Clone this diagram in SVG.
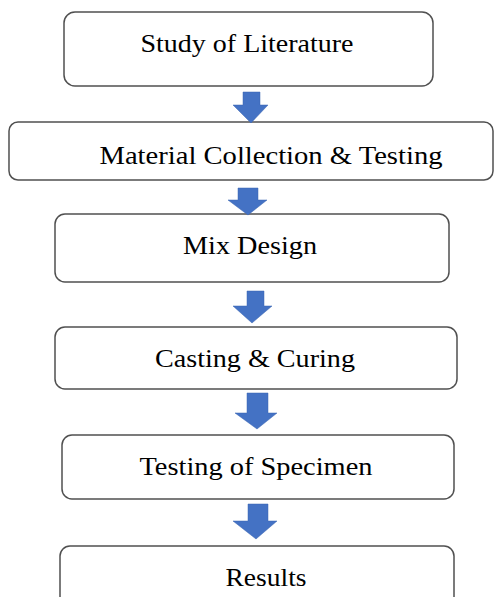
<svg xmlns="http://www.w3.org/2000/svg" width="494" height="597" viewBox="0 0 494 597">
<style>
.box{fill:#fff;stroke:#505050;stroke-width:1.5}
.lbl{font-size:25px;fill:#000;text-anchor:middle}
.arr{fill:#4472C4;stroke:#3a64b0;stroke-width:0.5}
</style>
<rect width="494" height="597" fill="#fff"/>
<g id="n1"><rect class="box" x="64" y="12" width="369" height="74" rx="11"/><text class="lbl" font-family="Liberation Serif, Times New Roman, serif" x="247" y="52" textLength="213" lengthAdjust="spacingAndGlyphs">Study of Literature</text></g>
<g id="n2"><rect class="box" x="9" y="122" width="484" height="58" rx="9"/><text class="lbl" font-family="Liberation Serif, Times New Roman, serif" x="271" y="164" textLength="343" lengthAdjust="spacingAndGlyphs">Material Collection &amp; Testing</text></g>
<g id="n3"><rect class="box" x="55" y="214" width="394" height="68" rx="10"/><text class="lbl" font-family="Liberation Serif, Times New Roman, serif" x="250" y="254" textLength="134" lengthAdjust="spacingAndGlyphs">Mix Design</text></g>
<g id="n4"><rect class="box" x="55" y="327" width="402" height="62" rx="10"/><text class="lbl" font-family="Liberation Serif, Times New Roman, serif" x="255" y="367" textLength="200" lengthAdjust="spacingAndGlyphs">Casting &amp; Curing</text></g>
<g id="n5"><rect class="box" x="62" y="435" width="392" height="64" rx="10"/><text class="lbl" font-family="Liberation Serif, Times New Roman, serif" x="256" y="475" textLength="233" lengthAdjust="spacingAndGlyphs">Testing of Specimen</text></g>
<g id="n6"><rect class="box" x="60" y="546" width="394" height="70" rx="10"/><text class="lbl" font-family="Liberation Serif, Times New Roman, serif" x="266" y="586" textLength="81" lengthAdjust="spacingAndGlyphs">Results</text></g>
<g id="connectors">
<polygon class="arr" points="243,92 260,92 260,105 268,105 251,123 233,105 243,105"/>
<polygon class="arr" points="238,188 258,188 258,200 267,200 248,215 228,200 238,200"/>
<polygon class="arr" points="247,291 264,291 264,306 272,306 252,323 233,306 247,306"/>
<polygon class="arr" points="247,393 268,393 268,413 277,413 257,429 235,413 247,413"/>
<polygon class="arr" points="248,504 268,504 268,521 277,521 256,539 233,521 248,521"/>
</g>
</svg>
